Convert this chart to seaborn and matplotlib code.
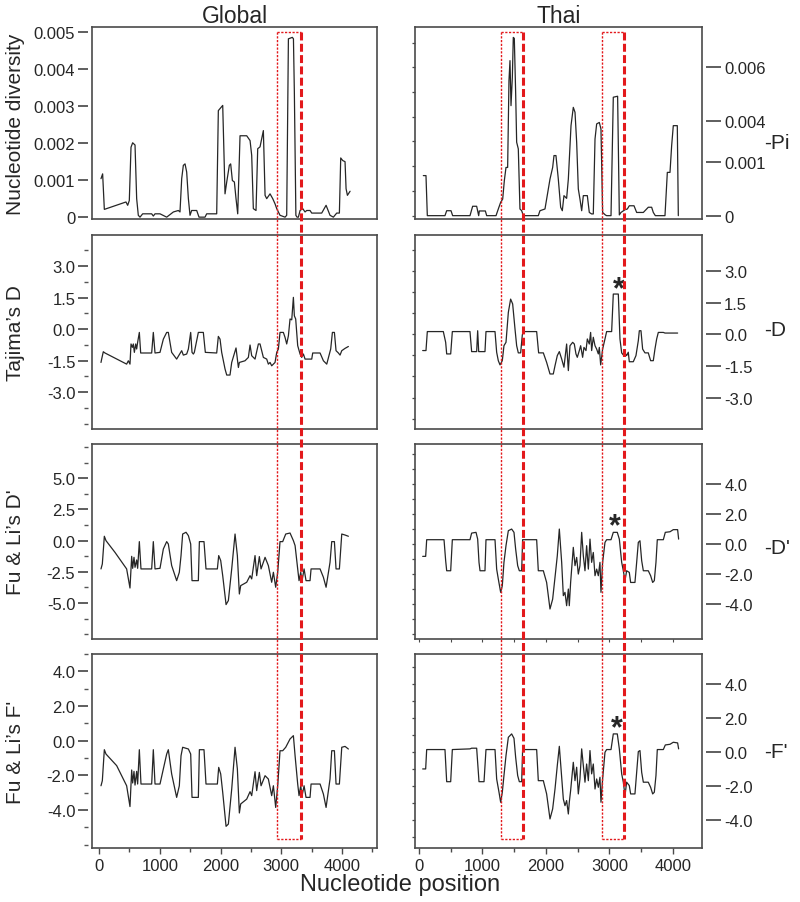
"""plot.py - sliding-window neutrality statistics, Global vs Thai sequences."""

import matplotlib
matplotlib.use("Agg")
import matplotlib.pyplot as plt
import seaborn as sns
from matplotlib.lines import Line2D
from matplotlib.ticker import FixedLocator, MultipleLocator, NullLocator


# ---------------------------------------------------------------- data
# Nucleotide diversity (Pi)
GLOBAL_PI_X = [33, 60, 88, 444, 472, 499, 527, 554, 593, 620, 647, 675, 719, 867, 894, 922,
               1004, 1114, 1224, 1306, 1333, 1361, 1388, 1416, 1443, 1471, 1498, 1525, 1608,
               1646, 1745, 1772, 1937, 1964, 2036, 2074, 2102, 2145, 2167, 2195, 2228, 2255,
               2283, 2321, 2431, 2486, 2513, 2540, 2584, 2612, 2650, 2705, 2733, 2760, 2815,
               2859, 2897, 2925, 2979, 3062, 3089, 3117, 3182, 3200, 3215, 3240, 3259, 3281,
               3309, 3353, 3391, 3418, 3473, 3501, 3665, 3737, 3802, 3857, 3912, 3956, 3978,
               4011, 4049, 4066, 4088, 4104, 4132]
GLOBAL_PI_Y = [0.00104, 0.00117, 0.00021, 0.00041, 0.00032, 0.00045, 0.00189, 0.00201, 0.00195,
               0.0005, 0.00005, 0, 0.00009, 0.00009, 0.00003, 0.00009, 0.00009, 0, 0.00014,
               0.00018, 0.00014, 0.00104, 0.0014, 0.00144, 0.00122, 0.0005, 0.00005, 0.00018,
               0.00018, 0, 0, 0.00009, 0.00009, 0.00288, 0.00302, 0.00063, 0.00095, 0.0014,
               0.00144, 0.00099, 0.00095, 0.0005, 0.00009, 0.0022, 0.0022, 0.00207, 0.00167,
               0.00023, 0.00018, 0.00185, 0.0019, 0.00234, 0.00059, 0.0005, 0.00063, 0.0005,
               0.00036, 0.00023, 0.00005, 0, 0.00005, 0.00482, 0.00486, 0.00482, 0.00338,
               0.00005, 0, 0, 0.00018, 0.00023, 0.00014, 0.00018, 0.00018, 0.00011, 0.00011,
               0.00032, 0.00005, 0, 0.00011, 0.00011, 0.0016, 0.00153, 0.0015, 0.00077, 0.00059,
               0.00063, 0.0007]

THAI_PI_X = [68, 110, 131, 409, 436, 504, 530, 803, 845, 908, 940, 950, 1045, 1066, 1213, 1249,
             1286, 1318, 1344, 1370, 1396, 1417, 1433, 1449, 1470, 1485, 1501, 1522, 1538, 1564,
             1590, 1617, 1643, 1879, 1905, 1984, 2063, 2105, 2126, 2157, 2194, 2231, 2257, 2283,
             2325, 2352, 2394, 2430, 2457, 2483, 2509, 2535, 2562, 2588, 2651, 2682, 2719, 2745,
             2772, 2798, 2840, 2866, 2892, 2934, 2955, 3024, 3060, 3128, 3155, 3181, 3244, 3281,
             3312, 3386, 3428, 3533, 3611, 3664, 3690, 3722, 3874, 3911, 3953, 3979, 4005, 4068,
             4084]
THAI_PI_Y = [0.00162, 0.00162, 0, 0, 0.0002, 0.0002, 0, 0, 0.00038, 0.00038, 0, 0.00019, 0.00019,
             0, 0, 0.00027, 0.00054, 0.00067, 0.00142, 0.00195, 0.00195, 0.00546, 0.00627,
             0.00445, 0.00559, 0.00721, 0.00717, 0.00499, 0.00297, 0.0027, 0.00027, 0.0002, 0, 0,
             0.0002, 0.00027, 0.00148, 0.00195, 0.00243, 0.00243, 0.00148, 0.00034, 0.0002,
             0.00081, 0.0007, 0.00148, 0.00364, 0.00438, 0.00418, 0.00297, 0.00108, 0.00067,
             0.0002, 0.00081, 0.00081, 0.00013, 0.00007, 0.00007, 0.0031, 0.00371, 0.00377,
             0.0035, 0.00013, 0.00003, 0, 0, 0.00479, 0.00483, 0.00003, 0.00013, 0.00024,
             0.00027, 0.0004, 0.0004, 0.00013, 0.00013, 0.00034, 0.00034, 0.00013, 0, 0, 0.00175,
             0.00175, 0.00283, 0.00364, 0.00364, 0]

# Tajima's D
GLOBAL_D_X = [33, 44, 71, 99, 455, 483, 510, 527, 549, 565, 582, 604, 620, 636, 664, 686, 867,
              894, 922, 1004, 1059, 1114, 1141, 1196, 1278, 1361, 1388, 1443, 1471, 1509, 1531,
              1553, 1569, 1635, 1717, 1750, 1937, 1964, 1992, 2019, 2074, 2102, 2156, 2184, 2255,
              2294, 2310, 2403, 2458, 2486, 2513, 2568, 2623, 2650, 2705, 2760, 2787, 2815, 2842,
              2897, 2925, 2952, 2979, 3034, 3062, 3089, 3117, 3144, 3172, 3199, 3215, 3237, 3270,
              3309, 3336, 3364, 3391, 3501, 3517, 3638, 3693, 3748, 3813, 3841, 3874, 3901, 3940,
              3967, 3995, 4049, 4104]
GLOBAL_D_Y = [-1.59, -1.43, -1.08, -1.14, -1.67, -1.51, -1.67, -0.71, -0.87, -0.71, -1.11, -0.71,
              -0.95, -0.63, -0.16, -1.14, -1.14, -0.16, -1.14, -1.11, -0.48, -0.16, -0.16, -1.11,
              -1.43, -1.03, -1.24, -1.19, -0.95, -0.16, -1.11, -1.19, -1.11, -0.16, -0.16, -1.11,
              -1.14, -0.35, -0.48, -1.11, -1.9, -2.19, -2.19, -1.59, -0.9, -1.83, -1.59, -1.51,
              -1.35, -0.76, -1.27, -1.43, -0.71, -0.71, -1.35, -1.43, -1.67, -1.59, -1.75, -1.59,
              -1.11, -0.95, -0.16, -0.16, -0.4, -0.71, -0.32, 0.48, 0.44, 1.51, 0.63, 0.48, -0.79,
              -1.19, -1.35, -1.19, -1.43, -1.43, -1.14, -1.14, -1.51, -1.67, -0.95, -0.16, -0.16,
              -1.03, -1.14, -1.24, -1.03, -0.92, -0.83]

THAI_D_X = [58, 110, 131, 383, 420, 436, 499, 525, 803, 829, 908, 924, 940, 1039, 1055, 1197,
            1223, 1249, 1276, 1312, 1338, 1370, 1407, 1443, 1475, 1512, 1538, 1564, 1601, 1627,
            1643, 1853, 1884, 1958, 2010, 2063, 2115, 2142, 2178, 2210, 2247, 2283, 2325, 2352,
            2378, 2420, 2446, 2472, 2493, 2525, 2546, 2577, 2598, 2630, 2651, 2682, 2703, 2719,
            2745, 2772, 2798, 2824, 2840, 2861, 2892, 2929, 2955, 3034, 3060, 3139, 3165, 3192,
            3218, 3244, 3270, 3296, 3312, 3375, 3417, 3454, 3470, 3496, 3522, 3559, 3611, 3648,
            3690, 3716, 3743, 3769, 3848, 3874, 4073]
THAI_D_Y = [-0.77, -0.77, 0.13, 0.13, -0.38, -0.93, -0.93, 0.13, 0.13, -0.82, -0.82, 0.17, -0.82,
            -0.82, 0.13, 0.13, -0.85, -1.25, -1.45, -1.25, -0.54, -0.38, 1.04, 1.67, 1.44, 0.25,
            -0.54, -0.88, -0.88, -0.03, 0.13, 0.13, -0.88, -0.88, -1.33, -1.88, -1.88, -1.49,
            -1.01, -0.82, -1.17, -1.56, -0.46, -1.72, -0.54, -0.38, -0.46, -0.93, -1.09, -0.77,
            -0.54, -1.09, -0.62, -0.77, -0.22, -0.46, 0.09, -0.77, -0.14, -0.54, -0.7, -0.93,
            -0.62, -1.45, -0.7, -0.22, 0.13, 0.13, 1.91, 1.91, -0.22, -0.88, -0.98, -0.88, -1.01,
            -0.85, -1.3, -1.3, -1.01, -0.3, 0.17, 0.17, -0.7, -0.88, -0.88, -1.25, -1.25, -0.7,
            -0.22, 0.09, 0.09, 0.06, 0.06]

# Fu & Li's D*
GLOBAL_DS_X = [33, 55, 88, 115, 263, 455, 510, 538, 554, 576, 593, 620, 636, 664, 691, 867, 894,
               922, 1004, 1059, 1114, 1141, 1196, 1278, 1322, 1350, 1377, 1432, 1471, 1509, 1531,
               1635, 1652, 1728, 1761, 1948, 1970, 2003, 2036, 2091, 2129, 2184, 2239, 2277, 2310,
               2332, 2431, 2486, 2513, 2568, 2595, 2639, 2667, 2733, 2787, 2842, 2870, 2908, 2941,
               2979, 3023, 3073, 3144, 3199, 3227, 3270, 3292, 3320, 3342, 3375, 3407, 3473, 3490,
               3638, 3693, 3737, 3802, 3830, 3874, 3901, 3956, 3995, 4049, 4104]
GLOBAL_DS_Y = [-2.27, -1.87, 0.35, 0, -0.94, -2.27, -3.8, -1.26, -2.22, -1.34, -2.14, -1.55,
               -2.22, -0.08, -2.27, -2.27, -0.08, -2.27, -2.22, -0.67, -0.08, -0.27, -2.0, -3.21,
               -2.54, -1.2, 0.53, 0.67, 0.4, -0.27, -3.21, -3.21, -0.08, -0.08, -2.27, -2.27, -1.2,
               -1.6, -2.81, -5.13, -4.81, -2.27, 0.53, -1.2, -4.28, -3.61, -3.34, -2.81, -3.07,
               -1.2, -2.81, -1.28, -2.27, -1.34, -2.0, -3.34, -2.54, -3.74, -2.54, -0.08, -0.08,
               0.53, 0.61, 0, -0.4, -2.27, -3.21, -2.54, -3.21, -2.27, -3.21, -3.21, -2.27, -2.27,
               -2.94, -3.74, -1.74, -0.08, -0.08, -2.27, -2.27, 0.53, 0.45, 0.35]

THAI_DS_X = [58, 105, 121, 394, 420, 436, 499, 525, 803, 829, 898, 924, 945, 961, 1039, 1055,
             1197, 1223, 1249, 1286, 1312, 1338, 1370, 1407, 1459, 1496, 1522, 1554, 1580, 1617,
             1632, 1853, 1879, 1958, 2010, 2063, 2105, 2142, 2178, 2210, 2247, 2273, 2299, 2325,
             2352, 2367, 2388, 2430, 2457, 2483, 2509, 2535, 2562, 2588, 2614, 2640, 2667, 2693,
             2719, 2745, 2772, 2798, 2824, 2850, 2866, 2892, 2929, 2955, 3024, 3060, 3123, 3155,
             3192, 3218, 3244, 3270, 3312, 3333, 3401, 3428, 3454, 3480, 3507, 3533, 3611, 3648,
             3680, 3706, 3732, 3753, 3848, 3879, 3953, 4005, 4073, 4089]
THAI_DS_Y = [-0.82, -0.82, 0.29, 0.29, -1.11, -1.78, -1.78, 0.29, 0.29, 0.73, 0.78, 0.33, -1.22,
             -1.78, -1.78, 0.29, 0.29, -1.67, -2.33, -3.22, -2.78, -1.22, -0.11, 0.89, 1.0, 0.78,
             -0.33, -1.44, -1.78, -1.78, 0.29, 0.29, -1.78, -1.78, -2.56, -4.33, -3.67, -2.22,
             -0.78, 1.0, -1.22, -3.44, -3.22, -4.11, -3.0, -4.11, -2.56, -0.22, -1.44, -0.89, -2.0,
             -1.44, 0.78, -0.78, -1.78, -0.11, -1.67, 0.33, -1.22, -0.56, -2.11, -1.67, -2.11,
             -1.22, -3.22, -1.22, 0.11, 0.29, 0.29, 0.78, 0.78, 0.33, -1.22, -1.78, -2.44, -1.78,
             -1.89, -2.56, -2.56, -1.22, 0.11, 0.22, -1.11, -1.78, -1.78, -2.11, -2.56, -2.44,
             -1.22, 0.29, 0.29, 0.78, 0.82, 0.96, 0.96, 0.33]

# Fu & Li's F*
GLOBAL_FS_X = [33, 55, 88, 115, 291, 455, 510, 538, 554, 576, 593, 620, 636, 664, 691, 867, 894,
               922, 1004, 1059, 1114, 1141, 1196, 1278, 1322, 1350, 1377, 1471, 1509, 1531, 1635,
               1652, 1728, 1761, 1948, 1970, 2003, 2036, 2091, 2129, 2184, 2239, 2277, 2310, 2332,
               2431, 2486, 2513, 2568, 2595, 2639, 2667, 2733, 2787, 2842, 2870, 2908, 2941, 2979,
               3023, 3073, 3144, 3199, 3227, 3270, 3292, 3320, 3342, 3375, 3407, 3473, 3490, 3638,
               3693, 3737, 3802, 3830, 3874, 3901, 3956, 3995, 4049, 4104]
GLOBAL_FS_Y = [-2.6, -2.31, -0.52, -0.77, -1.44, -2.6, -3.8, -1.69, -2.44, -1.77, -2.56, -1.77,
               -2.5, -0.52, -2.5, -2.5, -0.52, -2.5, -2.5, -1.63, -0.77, -0.52, -1.92, -3.27, -2.6,
               -0.87, -0.38, -0.48, -0.77, -3.27, -3.27, -0.52, -0.52, -2.5, -2.5, -1.54, -1.92,
               -2.98, -4.94, -4.81, -2.79, -0.38, -1.63, -4.17, -3.65, -3.37, -2.94, -3.17, -1.79,
               -2.88, -1.83, -2.6, -2.02, -2.21, -3.17, -2.6, -3.85, -2.6, -0.58, -0.58, -0.38, 0.1,
               0.29, -0.87, -2.5, -3.17, -2.6, -3.17, -2.6, -3.27, -3.27, -2.5, -2.5, -3.08, -3.85,
               -2.21, -0.58, -0.58, -2.5, -2.5, -0.38, -0.33, -0.48]

THAI_FS_X = [58, 105, 121, 409, 436, 499, 525, 803, 829, 908, 945, 1024, 1055, 1197, 1223, 1260,
             1286, 1312, 1338, 1370, 1407, 1459, 1496, 1522, 1554, 1580, 1617, 1632, 1853, 1879,
             1958, 2010, 2063, 2105, 2142, 2178, 2210, 2247, 2273, 2299, 2325, 2352, 2367, 2388,
             2430, 2457, 2483, 2509, 2535, 2562, 2588, 2614, 2640, 2667, 2693, 2719, 2745, 2772,
             2798, 2824, 2850, 2866, 2892, 2929, 2955, 3024, 3060, 3123, 3155, 3192, 3218, 3244,
             3270, 3312, 3333, 3401, 3428, 3454, 3480, 3507, 3533, 3611, 3648, 3680, 3706, 3732,
             3753, 3848, 3879, 3953, 4005, 4073, 4089]
THAI_FS_Y = [-0.98, -0.98, 0.16, 0.16, -1.73, -1.73, 0.16, 0.2, 0.24, 0.24, -1.73, -1.73, 0.16,
             0.16, -1.57, -2.35, -2.94, -2.35, -1.37, -0.2, 0.88, 1.08, 0.82, -0.29, -1.37, -1.73,
             -1.73, 0.16, 0.16, -1.67, -1.67, -2.45, -3.92, -3.33, -2.16, -0.78, 0.35, -1.47,
             -2.75, -3.14, -2.84, -3.63, -2.94, -2.25, -0.59, -1.67, -0.88, -2.45, -1.57, 0.2,
             -0.78, -1.76, -0.69, -1.67, 0.1, -1.27, -0.69, -2.16, -1.57, -2.06, -1.47, -2.94,
             -1.57, 0, 0.16, 0.16, 1.08, 1.08, 0.2, -1.27, -1.76, -2.55, -1.76, -1.96, -2.45,
             -2.45, -1.18, 0.04, 0.1, -1.18, -1.76, -1.76, -2.06, -2.45, -2.35, -1.37, 0.16, 0.16,
             0.43, 0.47, 0.59, 0.55, 0.2]

ROW_YLABELS = ["Nucleotide diversity", "Tajima\u2019s D", "Fu & Li\u2019s D'", "Fu & Li\u2019s F'"]
ROW_SHORT = ["-Pi", "-D", "-D'", "-F'"]

GLOBAL_TICKS = [[0, 0.001, 0.002, 0.003, 0.004, 0.005],
                [-3.0, -1.5, 0.0, 1.5, 3.0],
                [-5.0, -2.5, 0.0, 2.5, 5.0],
                [-4.0, -2.0, 0.0, 2.0, 4.0]]
GLOBAL_TICK_LABELS = [["0", "0.001", "0.002", "0.003", "0.004", "0.005"],
                      ["-3.0", "-1.5", "0.0", "1.5", "3.0"],
                      ["-5.0", "-2.5", "0.0", "2.5", "5.0"],
                      ["-4.0", "-2.0", "0.0", "2.0", "4.0"]]
THAI_TICKS = [[0, 0.00216, 0.00384, 0.006],
              [-3.0, -1.5, 0.0, 1.5, 3.0],
              [-4.0, -2.0, 0.0, 2.0, 4.0],
              [-4.0, -2.0, 0.0, 2.0, 4.0]]
THAI_TICK_LABELS = [["0", "0.001", "0.004", "0.006"],
                    ["-3.0", "-1.5", "0.0", "1.5", "3.0"],
                    ["-4.0", "-2.0", "0.0", "2.0", "4.0"],
                    ["-4.0", "-2.0", "0.0", "2.0", "4.0"]]

X_TICKS = [0, 1000, 2000, 3000, 4000]

# highlighted windows (nucleotide position ranges)
GLOBAL_BOXES = [(2930, 3325)]
THAI_BOXES = [(1287, 1643), (2877, 3233)]

# significance marks on the Thai panels (row, x, y)
STARS = [(1, 3145, 2.62), (2, 3076, 1.84), (3, 3123, 2.0)]

SERIES = [
    (GLOBAL_PI_X, GLOBAL_PI_Y, THAI_PI_X, THAI_PI_Y),
    (GLOBAL_D_X, GLOBAL_D_Y, THAI_D_X, THAI_D_Y),
    (GLOBAL_DS_X, GLOBAL_DS_Y, THAI_DS_X, THAI_DS_Y),
    (GLOBAL_FS_X, GLOBAL_FS_Y, THAI_FS_X, THAI_FS_Y),
]

# ---------------------------------------------------------------- layout / style
GLOBAL_YLIM = [(-0.00005, 0.00514), (-4.76, 4.48), (-7.89, 7.75), (-6.19, 5.0)]
THAI_YLIM = [(-0.000135, 0.00763), (-4.49, 4.71), (-6.33, 6.67), (-5.63, 5.78)]
GLOBAL_MINOR = [None, 0.75, 1.25, 1.0]
THAI_LEFT_STEP = [0.001, 1.0, 1.0, 1.0]
SHORT_Y = [0.40, 0.515, 0.47, 0.495]

ROWS_PX = [(28, 220), (236, 430), (445, 640), (655, 849)]
COLS_PX = [(92, 377), (415, 702)]
XLIMS = [(-115, 4575), (-63, 4457)]

FIG_W, FIG_H = 800, 903
LINE = "#262626"
SPINE = "#4a4a4a"
RED = "#e3191c"

sns.set_style("ticks")
plt.rcParams["font.family"] = ["Liberation Sans", "DejaVu Sans"]
plt.rcParams["axes.unicode_minus"] = False

fig = plt.figure(figsize=(FIG_W / 100, FIG_H / 100), dpi=100)


def add_px_axes(col, row):
    x0, x1 = COLS_PX[col]
    y0, y1 = ROWS_PX[row]
    return fig.add_axes([x0 / FIG_W, 1 - y1 / FIG_H, (x1 - x0) / FIG_W, (y1 - y0) / FIG_H])


def style_frame(ax):
    for side in ax.spines.values():
        side.set_color(SPINE)
        side.set_linewidth(1.2)


axes = []
for r, (gx, gy, tx, ty) in enumerate(SERIES):
    ax_g = add_px_axes(0, r)
    ax_t = add_px_axes(1, r)

    sns.lineplot(x=gx, y=gy, ax=ax_g, color=LINE, linewidth=0.9, sort=False, estimator=None)
    sns.lineplot(x=tx, y=ty, ax=ax_t, color=LINE, linewidth=0.9, sort=False, estimator=None)

    for col, ax in enumerate((ax_g, ax_t)):
        style_frame(ax)
        ax.set_xlim(*XLIMS[col])
        ax.set_xlabel("")
        ax.set_ylabel("")
        if r == 3:
            ax.xaxis.set_major_locator(FixedLocator(X_TICKS))
            ax.xaxis.set_minor_locator(MultipleLocator(500))
            ax.tick_params(axis="x", which="major", length=4, width=1, color=SPINE,
                           labelsize=12, pad=3)
            ax.tick_params(axis="x", which="minor", length=3, width=1, color=SPINE)
        elif r == 2 and col == 1:
            ax.xaxis.set_major_locator(NullLocator())
            ax.xaxis.set_minor_locator(MultipleLocator(500))
            ax.tick_params(axis="x", which="minor", length=2.5, width=0.8, color=SPINE)
        else:
            ax.xaxis.set_major_locator(NullLocator())

    # ---- Global (left) column: labelled ticks detached from the frame
    ax_g.set_ylim(*GLOBAL_YLIM[r])
    ax_g.yaxis.set_major_locator(NullLocator())
    tw = ax_g.twinx()
    tw.set_ylim(*GLOBAL_YLIM[r])
    tw.yaxis.tick_left()
    for side in tw.spines.values():
        side.set_visible(False)
    tw.spines["left"].set_position(("outward", 3))
    tw.yaxis.set_major_locator(FixedLocator(GLOBAL_TICKS[r]))
    tw.set_yticklabels(GLOBAL_TICK_LABELS[r])
    if GLOBAL_MINOR[r]:
        tw.yaxis.set_minor_locator(MultipleLocator(GLOBAL_MINOR[r]))
    tw.tick_params(axis="y", which="major", length=7, width=1.1, color="#333333",
                   labelsize=12, pad=2)
    tw.tick_params(axis="y", which="minor", length=3, width=1, color="#555555")
    ax_g.set_ylabel(ROW_YLABELS[r], fontsize=15)
    ax_g.yaxis.set_label_coords(-0.235, 0.5)

    # ---- Thai (right) column: small unlabelled ticks left, labels on the right
    ax_t.set_ylim(*THAI_YLIM[r])
    ax_t.yaxis.set_major_locator(MultipleLocator(THAI_LEFT_STEP[r]))
    ax_t.tick_params(axis="y", which="major", left=True, labelleft=False, length=2.5,
                     width=0.9, color=SPINE)
    tw = ax_t.twinx()
    tw.set_ylim(*THAI_YLIM[r])
    for side in tw.spines.values():
        side.set_visible(False)
    tw.spines["right"].set_position(("outward", 3))
    tw.yaxis.set_major_locator(FixedLocator(THAI_TICKS[r]))
    tw.set_yticklabels(THAI_TICK_LABELS[r])
    tw.tick_params(axis="y", which="major", length=11, width=1.1, color="#333333",
                   labelsize=12, pad=2)
    ax_t.text(1.216, SHORT_Y[r], ROW_SHORT[r], transform=ax_t.transAxes, fontsize=15,
              ha="left", va="center")

    axes.append((ax_g, ax_t))

axes[0][0].set_title("Global", fontsize=16.5, pad=2)
axes[0][1].set_title("Thai", fontsize=16.5, pad=2)

for r, sx, sy in STARS:
    axes[r][1].annotate("*", xy=(sx, sy), xytext=(0, -13), textcoords="offset points",
                        ha="center", va="baseline", fontsize=22, fontweight="bold")

fig.text(400 / FIG_W, 1 - 885 / FIG_H, "Nucleotide position", ha="center", va="center",
         fontsize=17)


# ---------------------------------------------------------------- highlighted windows
def draw_window(ax_top, ax_bot, x0, x1, y_top, y_bot):
    to_fig = fig.transFigure.inverted()
    tl = to_fig.transform(ax_top.transData.transform((x0, y_top)))
    tr = to_fig.transform(ax_top.transData.transform((x1, y_top)))
    bl = to_fig.transform(ax_bot.transData.transform((x0, y_bot)))
    br = to_fig.transform(ax_bot.transData.transform((x1, y_bot)))
    thin = dict(color=RED, lw=1.0, linestyle=(0, (1.6, 1.1)), zorder=10)
    fig.add_artist(Line2D([tl[0], bl[0]], [tl[1], bl[1]], **thin))
    fig.add_artist(Line2D([tl[0], tr[0]], [tl[1], tr[1]], **thin))
    fig.add_artist(Line2D([bl[0], br[0]], [bl[1], br[1]], **thin))
    fig.add_artist(Line2D([tr[0], br[0]], [tr[1], br[1]], color=RED, lw=2.2,
                          linestyle=(0, (2.6, 1.1)), zorder=10))


for x0, x1 in GLOBAL_BOXES:
    draw_window(axes[0][0], axes[3][0], x0, x1, 0.005, -5.67)
for x0, x1 in THAI_BOXES:
    draw_window(axes[0][1], axes[3][1], x0, x1, 0.00743, -5.1)

fig.savefig("out.png", dpi=100)
